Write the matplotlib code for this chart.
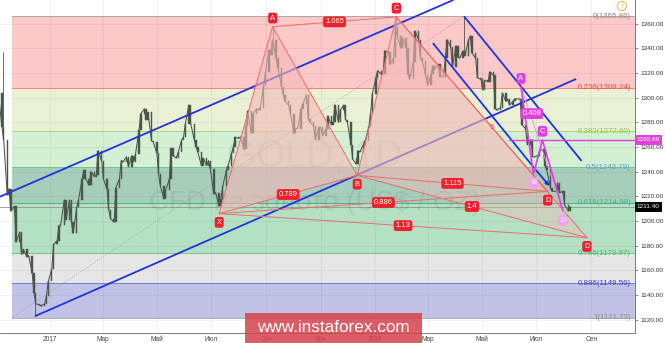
import matplotlib
matplotlib.use('Agg')
import matplotlib.pyplot as plt
import matplotlib.dates as mdates
import matplotlib.transforms as mtransforms
from matplotlib.patches import Rectangle, Polygon
import numpy as np
import pandas as pd

plt.rcParams['font.family'] = ['Liberation Sans', 'DejaVu Sans']

# ---------------- data ----------------
# closes sampled every 2nd business day starting 2016-11-04
close_2016 = [1304, 1276, 1266, 1221, 1226, 1208, 1212, 1183, 1191, 1173,
              1177, 1171, 1172, 1158, 1142, 1133, 1132, 1131, 1133, 1139, 1151]
close_2017 = [1161, 1181, 1184, 1196, 1197, 1217, 1201, 1217, 1199, 1190, 1211,
              1217, 1234, 1241, 1234, 1229, 1240, 1236, 1237, 1257, 1249,
              1234, 1226, 1209, 1202, 1199, 1227, 1234, 1249, 1248, 1252, 1244,
              1253, 1248, 1254, 1274, 1287, 1291, 1282, 1288, 1265, 1264,
              1255, 1238, 1228, 1218, 1225, 1234, 1259, 1253, 1251, 1256, 1266, 1268,
              1279, 1294, 1279, 1266, 1260, 1256, 1245, 1251, 1245, 1249, 1242,
              1222, 1223, 1212, 1218, 1228, 1241, 1245, 1255, 1260, 1268,
              1267, 1268, 1258, 1277, 1289, 1271, 1287, 1291, 1290, 1292, 1310, 1321,
              1339, 1335, 1347, 1332, 1324, 1309, 1302, 1297, 1294, 1287,
              1271, 1275, 1275, 1291, 1295, 1302, 1283, 1280, 1277, 1266, 1276,
              1276, 1269, 1275, 1285, 1278, 1280, 1294, 1280, 1290, 1294, 1282,
              1280, 1262, 1250, 1246, 1257, 1256, 1262, 1265, 1276, 1287, 1303]
close_2018 = [1316, 1322, 1319, 1319, 1338, 1337, 1327, 1332, 1357, 1350, 1340,
              1348, 1340, 1319, 1315, 1329, 1354, 1347, 1332, 1330, 1318,
              1310, 1319, 1326, 1323, 1327, 1317, 1317, 1332, 1347, 1341, 1325,
              1342, 1333, 1332, 1338, 1334, 1347, 1350, 1336, 1332, 1316, 1315,
              1306, 1314, 1313, 1321, 1318, 1291, 1290, 1292, 1304, 1297, 1299,
              1294, 1297, 1299, 1299, 1299, 1278, 1275, 1262, 1266, 1252, 1252,
              1253, 1257, 1258, 1245, 1241, 1227, 1224, 1224, 1231, 1223, 1224,
              1213, 1208, 1211.4]
close = close_2016 + close_2017 + close_2018
start_date = '2016-11-04'

wick_dates = ['2016-11-09', '2016-12-15', '2017-09-08', '2018-01-25', '2018-04-11']
wick_prices = [1337, 1123, 1357, 1366, 1366]

fib_ratios = ['0', '0.236', '0.382', '0.5', '0.618', '0.786', '0.886', '1']
fib_prices = [1365.86, 1308.24, 1272.60, 1243.79, 1214.98, 1173.97, 1149.56, 1121.73]
fib_start = '2016-11-19'
fib_trend_dates = ['2016-11-19', '2018-04-11']

xabc_names = ['X', 'A', 'B', 'C']
xabc_dates = ['2017-07-10', '2017-09-08', '2017-12-12', '2018-01-25']
xabc_prices = [1206.0, 1357.5, 1237.0, 1365.5]
d_dates = ['2018-07-14', '2018-08-27']
d_prices = [1224.0, 1186.5]
xb_ratio, ac_ratio = '0.789', '1.065'
bd_ratios = ['1.115', '1.4']
xd_ratios = ['0.886', '1.13']

abcd_names = ['A', 'B', 'C', 'D']
abcd_dates = ['2018-06-14', '2018-06-28', '2018-07-08', '2018-07-31']
abcd_prices = [1308.5, 1238.0, 1265.69, 1208.5]
abcd_ratio = '0.409'
c_level = 1265.69
c_level_start = '2018-05-31'
last_price = 1211.40

asc_lower_dates, asc_lower_prices = ['2016-12-15', '2018-08-15'], [1122.8, 1315.2]
asc_upper_dates, asc_upper_prices = ['2016-11-05', '2018-03-30'], [1219.5, 1379.2]
desc_upper_dates, desc_upper_prices = ['2018-04-11', '2018-08-21'], [1366.0, 1248.7]
desc_lower_dates, desc_lower_prices = ['2018-03-07', '2018-06-29'], [1344.3, 1242.8]
arrow_dates, arrow_prices = ['2018-06-29', '2018-07-18'], [1242.8, 1226.6]
wave_label, wave_date, wave_price = '5', '2018-05-12', 1275.5

ytick_values = list(range(1120, 1361, 20))
xtick_dates = ['2017-01-01', '2017-03-01', '2017-05-01', '2017-07-01', '2017-09-01',
               '2017-11-01', '2018-01-01', '2018-03-01', '2018-05-01', '2018-07-01',
               '2018-09-01']
xtick_labels = ['2017', 'Мар', 'Май', 'Июл', 'Сен', 'Ноя', '2018', 'Мар', 'Май', 'Июл', 'Сен']

# ---------------- figure ----------------
W, H = 665, 343
fig = plt.figure(figsize=(W / 100, H / 100), dpi=100)
fig.patch.set_facecolor('white')
ax = fig.add_axes([0, 1 - 333 / H, 635 / W, 333 / H])
ax.set_facecolor('white')


def dn(s):
    return mdates.date2num(pd.Timestamp(s))


ppd = 325 / 365
x_anchor = dn('2017-01-01')
xlim = (x_anchor - 50 / ppd, x_anchor + 585 / ppd)
ax.set_xlim(*xlim)
ax.set_ylim(1109.2, 1379.2)

# fib bands
band_colors = ['#fcc8c8', '#eaf0d4', '#d4f0d4', '#a6cebb', '#b4e0c4', '#e6e6e6', '#c2c2e6']
line_colors = ['#a0a0a0', '#f07070', '#a8d070', '#70c090', '#40a888', '#60c080', '#6c6cd8', '#a0a0a0']
label_colors = ['#8a8a8a', '#f04848', '#8cc850', '#5a9fd0', '#3fae8c', '#52b46c', '#3c3cd0', '#8a8a8a']
x0 = dn(fib_start)
x1 = xlim[1]
for i in range(len(band_colors)):
    ax.add_patch(Rectangle((x0, fib_prices[i + 1]), x1 - x0, fib_prices[i] - fib_prices[i + 1],
                           fc=band_colors[i], ec='none', zorder=0.3))
for p, c in zip(fib_prices, line_colors):
    ax.plot([x0, x1], [p, p], color=c, lw=0.6, zorder=0.4)

# grid
for v in ytick_values:
    ax.axhline(v, color='k', alpha=0.06, lw=0.6, zorder=0.5)
for d in xtick_dates:
    ax.axvline(dn(d), color='k', alpha=0.06, lw=0.6, zorder=0.5)

# fib trend dotted line
ax.plot([dn(fib_trend_dates[0]), dn(fib_trend_dates[1])], [fib_prices[-1], fib_prices[0]],
        color='#999999', lw=0.6, ls=(0, (1, 2)), zorder=0.6)

# watermarks
ax.text(0.496, 0.5285, 'GOLD, 1D', transform=ax.transAxes, fontsize=27, color='k',
        alpha=0.07, ha='center', va='center', zorder=1.5)
ax.text(0.496, 0.3904, 'CFD на золото (US$ / OZ)', transform=ax.transAxes, fontsize=20,
        color='k', alpha=0.07, ha='center', va='center', zorder=1.5)

# current price line
ax.axhline(last_price, color='#8a9a8a', lw=0.6, zorder=1)

# candles
xd = mdates.date2num(pd.date_range(start_date, periods=len(close), freq='2B').to_pydatetime())
c = np.array(close, dtype=float)
o = np.r_[c[0], c[:-1]]
cc = '#4a564a'
ax.plot(xd, c, color=cc, lw=0.75, zorder=2)
ax.bar(xd, np.abs(c - o), bottom=np.minimum(o, c), width=1.6, color=cc, ec=cc, lw=0.3, zorder=2)
for wd, wp in zip(wick_dates, wick_prices):
    i = int(np.argmin(np.abs(xd - dn(wd))))
    ax.vlines(dn(wd), min(c[i], wp), max(c[i], wp), color=cc, lw=0.6, zorder=2)

# blue lines
blue = '#2233dd'
for ds, ps in [(asc_lower_dates, asc_lower_prices), (asc_upper_dates, asc_upper_prices),
               (desc_upper_dates, desc_upper_prices), (desc_lower_dates, desc_lower_prices)]:
    ax.plot([dn(d) for d in ds], ps, color=blue, lw=1.3, zorder=3, solid_capstyle='butt')
ax.annotate('', xy=(dn(arrow_dates[1]), arrow_prices[1]), xytext=(dn(arrow_dates[0]), arrow_prices[0]),
            arrowprops=dict(arrowstyle='-|>', color=blue, lw=1.3, mutation_scale=5), zorder=3)

# XABCD harmonic pattern
P = {n: (dn(d), p) for n, d, p in zip(xabc_names, xabc_dates, xabc_prices)}
D = [(dn(d), p) for d, p in zip(d_dates, d_prices)]
pfill = '#f4b8b8'
ax.add_patch(Polygon([P['X'], P['A'], P['B']], closed=True, fc=pfill, ec='none', alpha=0.6, zorder=4))
for dd, al in zip(D, [0.35, 0.4]):
    ax.add_patch(Polygon([P['B'], P['C'], dd], closed=True, fc=pfill, ec='none', alpha=al, zorder=4))
rl = '#f06a6a'
segs = [(P['X'], P['A']), (P['A'], P['B']), (P['B'], P['C']), (P['X'], P['B']), (P['A'], P['C'])]
for dd in D:
    segs += [(P['C'], dd), (P['B'], dd), (P['X'], dd)]
for a, b in segs:
    ax.plot([a[0], b[0]], [a[1], b[1]], color=rl, lw=0.7, zorder=5)


def ratio_label(a, b, txt, fc='#f0202c'):
    ax.text((a[0] + b[0]) / 2, (a[1] + b[1]) / 2, txt, fontsize=5.5, color='white', ha='center',
            va='center', zorder=8, bbox=dict(boxstyle='round,pad=0.25,rounding_size=0.3', fc=fc, ec='none'))


def pt_label(pt, txt, up, fc='#f0202c', off=6.3):
    ax.annotate(txt, xy=pt, xytext=(0, off if up else -off), textcoords='offset points',
                fontsize=5.5, color='white', ha='center', va='center', zorder=8,
                bbox=dict(boxstyle='round,pad=0.25,rounding_size=0.3', fc=fc, ec='none'))


ratio_label(P['X'], P['B'], xb_ratio)
ratio_label(P['A'], P['C'], ac_ratio)
for dd, r1, r2 in zip(D, bd_ratios, xd_ratios):
    ratio_label(P['B'], dd, r1)
    ratio_label(P['X'], dd, r2)
pt_label(P['X'], 'X', False)
pt_label(P['A'], 'A', True)
pt_label(P['B'], 'B', False)
pt_label(P['C'], 'C', True)
for dd in D:
    pt_label(dd, 'D', False)

# ABCD (magenta) pattern
Q = {n: (dn(d), p) for n, d, p in zip(abcd_names, abcd_dates, abcd_prices)}
mag = '#e040e0'
ax.plot([dn(c_level_start), xlim[1]], [c_level, c_level], color=mag, lw=1.0, zorder=6)
ax.plot([Q['A'][0], Q['D'][0]], [Q['A'][1], Q['D'][1]], color='#f090f0', lw=0.7, zorder=6)
ax.plot([Q[n][0] for n in abcd_names], [Q[n][1] for n in abcd_names], color=mag, lw=1.2, zorder=6)
ratio_label(Q['A'], Q['C'], abcd_ratio, fc=mag)
pt_label(Q['A'], 'A', True, fc=mag)
pt_label(Q['B'], 'B', False, fc='#f3a0f0')
pt_label(Q['C'], 'C', True, fc=mag)
pt_label(Q['D'], 'D', False, fc='#f3a0f0', off=7)

ax.text(dn(wave_date), wave_price, wave_label, fontsize=6, color='#f05050', ha='center', va='center', zorder=6)

# fib labels
tr = mtransforms.blended_transform_factory(ax.transAxes, ax.transData)
for r, p, col in zip(fib_ratios, fib_prices, label_colors):
    ax.text(631 / 635, p, f'{r}({p:.2f})', transform=tr, fontsize=5.7, color=col,
            ha='right', va='center', zorder=7)

# axes styling
ax.yaxis.tick_right()
ax.set_yticks(ytick_values)
ax.set_yticklabels([f'{v:.2f}' for v in ytick_values])
ax.tick_params(axis='y', labelsize=4.6, labelcolor='#333333', color='#666666', length=2, pad=2, width=0.5)
ax.set_xticks([dn(d) for d in xtick_dates])
ax.set_xticklabels(xtick_labels)
ax.tick_params(axis='x', labelsize=4.7, labelcolor='#444444', length=0, pad=2.5)
for s in ['top', 'left']:
    ax.spines[s].set_visible(False)
for s in ['bottom', 'right']:
    ax.spines[s].set_color('#666666')
    ax.spines[s].set_linewidth(0.6)

# price tags
ax.text(1.003, c_level, f'{c_level:.2f}', transform=tr, fontsize=4.6, color='white', va='center',
        ha='left', bbox=dict(boxstyle='square,pad=0.35', fc=mag, ec='none'), zorder=10, clip_on=False)
ax.text(1.003, last_price, f'{last_price:.2f}', transform=tr, fontsize=4.6, color='white', va='center',
        ha='left', bbox=dict(boxstyle='square,pad=0.35', fc='black', ec='none'), zorder=10, clip_on=False)

# alert icon
fig.text(622 / W, 1 - 6 / H, '!', ha='center', va='center', fontsize=5, color='#f5a040',
         bbox=dict(boxstyle='circle,pad=0.15', fc='white', ec='#f5a040', lw=0.6))

# banner
fig.patches.append(Rectangle((245 / W, 0), (422 - 245) / W, (343 - 313) / H, transform=fig.transFigure,
                             fc='#d5414a', ec='none', alpha=0.85, zorder=10))
fig.text(333.5 / W, 1 - 327 / H, 'www.instaforex.com', ha='center', va='center', fontsize=12.3,
         color='white', zorder=11)

fig.savefig('out.png', dpi=100)
